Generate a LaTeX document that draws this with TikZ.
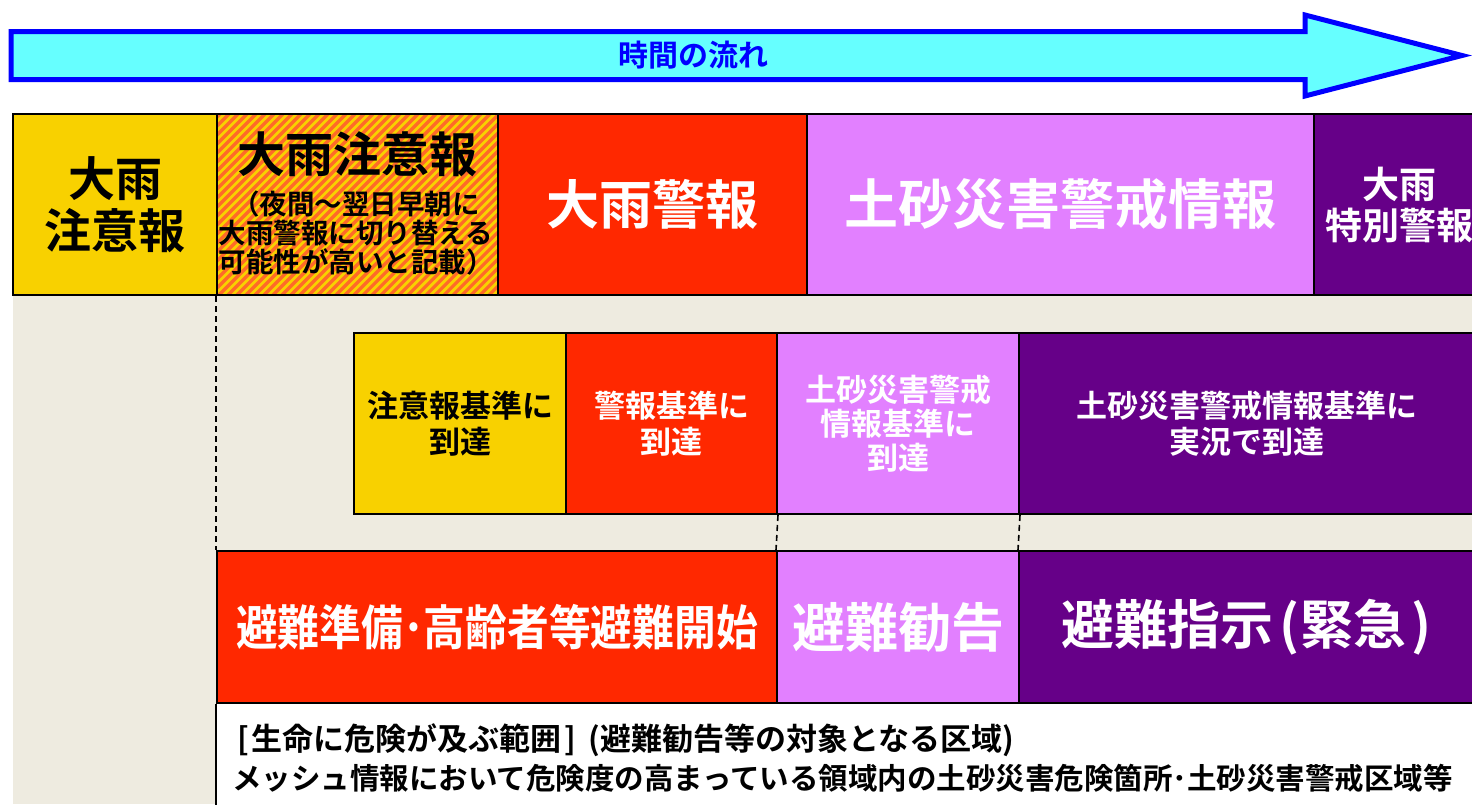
\documentclass[tikz,border=0pt]{standalone}
\usepackage{graphicx}
\usepackage{fontspec}
\setmainfont{Noto Sans CJK JP}[BoldFont={Noto Sans CJK JP Bold}]
\definecolor{arrowfill}{HTML}{66FFFF}
\definecolor{arrowblue}{HTML}{0000FF}
\definecolor{wyellow}{HTML}{F8D100}
\definecolor{wred}{HTML}{FF2800}
\definecolor{wpink}{HTML}{E280FF}
\definecolor{wpurple}{HTML}{660088}
\definecolor{beige}{HTML}{EEEBE0}
\definecolor{hatchor}{HTML}{FF6A28}
\tikzset{
  cell/.style={draw=black, line width=2pt, inner sep=0pt, anchor=north west, align=center},
  fs/.style={font=\bfseries\fontsize{#1}{#1}\selectfont},
  fsl/.style 2 args={font=\bfseries\fontsize{#1}{#2}\selectfont},
  dashline/.style={draw=black, line width=1.6pt, dash pattern=on 6pt off 4pt},
}
\begin{document}
\begin{tikzpicture}[x=1pt,y=-1pt]
\useasboundingbox (0,0) rectangle (1472,804);
% background
\fill[beige] (13,294) rectangle (1472,804);
\fill[white] (216,702) rectangle (1472,804);
% arrow
\draw[arrowblue, fill=arrowfill, line width=5pt, line join=miter]
  (11,31.5) -- (1305,31.5) -- (1305,15) -- (1462,55.5) -- (1305,96) -- (1305,79.5) -- (11,79.5) -- cycle;
\node[fs=30, text=arrowblue] (flow) at (693,55) {時間の流れ};
% top row
\node[cell, fill=wyellow, minimum width=204pt, minimum height=181pt, fsl={47}{52}] (c1) at (12,113) {大雨\\注意報};
\begin{scope}
\clip (216,113) rectangle (497,294);
\fill[wyellow] (216,113) rectangle (497,294);
\foreach \k in {-200,-191,...,300} \draw[hatchor, line width=3.2pt] (216+\k,300) -- (416+\k,100);
\end{scope}
\node[cell, minimum width=281pt, minimum height=181pt] (c2) at (216,113) {};
\node[fs=48] (c2t) at (357,154) {大雨注意報};
\node[fsl={27.5}{29}, align=center] (c2s) at (356,233) {（夜間～翌日早朝に\\大雨警報に切り替える\\可能性が高いと記載）};
\node[cell, fill=wred, text=white, minimum width=309pt, minimum height=181pt, fs=53] (c3) at (497,113) {大雨警報};
\node[cell, fill=wpink, text=white, minimum width=507pt, minimum height=181pt, fs=54] (c4) at (806,113) {土砂災害警戒情報};
\node[cell, fill=wpurple, text=white, minimum width=163pt, minimum height=181pt, fsl={37}{41}] (c5) at (1313,113) {\hspace*{8pt}大雨\\\hspace*{8pt}特別警報};
% middle row
\node[cell, fill=wyellow, minimum width=212pt, minimum height=181pt, fsl={31}{36}] (m1) at (353,332) {注意報基準に\\到達};
\node[cell, fill=wred, text=white, minimum width=211pt, minimum height=181pt, fsl={31}{36}] (m2) at (565,332) {警報基準に\\到達};
\node[cell, fill=wpink, text=white, minimum width=242pt, minimum height=181pt, fsl={31}{34}] (m3) at (776,332) {土砂災害警戒\\情報基準に\\到達};
\node[cell, fill=wpurple, text=white, minimum width=456pt, minimum height=181pt, fsl={31}{36}] (m4) at (1018,332) {土砂災害警戒情報基準に\\実況で到達};
% bottom row
\node[cell, fill=wred, text=white, minimum width=560pt, minimum height=152pt, fs=48] (b1) at (216,550) {\scalebox{0.87}[1]{避難準備･高齢者等避難開始}};
\node[cell, fill=wpink, text=white, minimum width=242pt, minimum height=152pt, fs=53] (b2) at (776,550) {避難勧告};
\node[cell, fill=wpurple, text=white, minimum width=456pt, minimum height=152pt, fs=53] (b3) at (1018,550) {避難指示\hspace{6pt}(緊急\hspace{6pt})};
% connectors
\coordinate (lb) at (216,806);
\draw[black, line width=2pt] (b1.south west) -- (lb);
\draw[dashline] (c2.south west) -- (b1.north west);
\draw[dashline] (m2.south east) -- (b2.north west);
\draw[dashline] (m3.south east) -- (b3.north west);
% bottom notes
\node[fs=31, anchor=west, inner sep=0pt] (n1) at (237,740) {[\hspace{3pt}生命に危険が及ぶ範囲\hspace{3pt}]\hspace{12pt}(避難勧告等の対象となる区域)};
\node[fs=29.5, anchor=west, inner sep=0pt] (n2) at (232,778) {メッシュ情報において危険度の高まっている領域内の土砂災害危険箇所･土砂災害警戒区域等};
\end{tikzpicture}
\end{document}
